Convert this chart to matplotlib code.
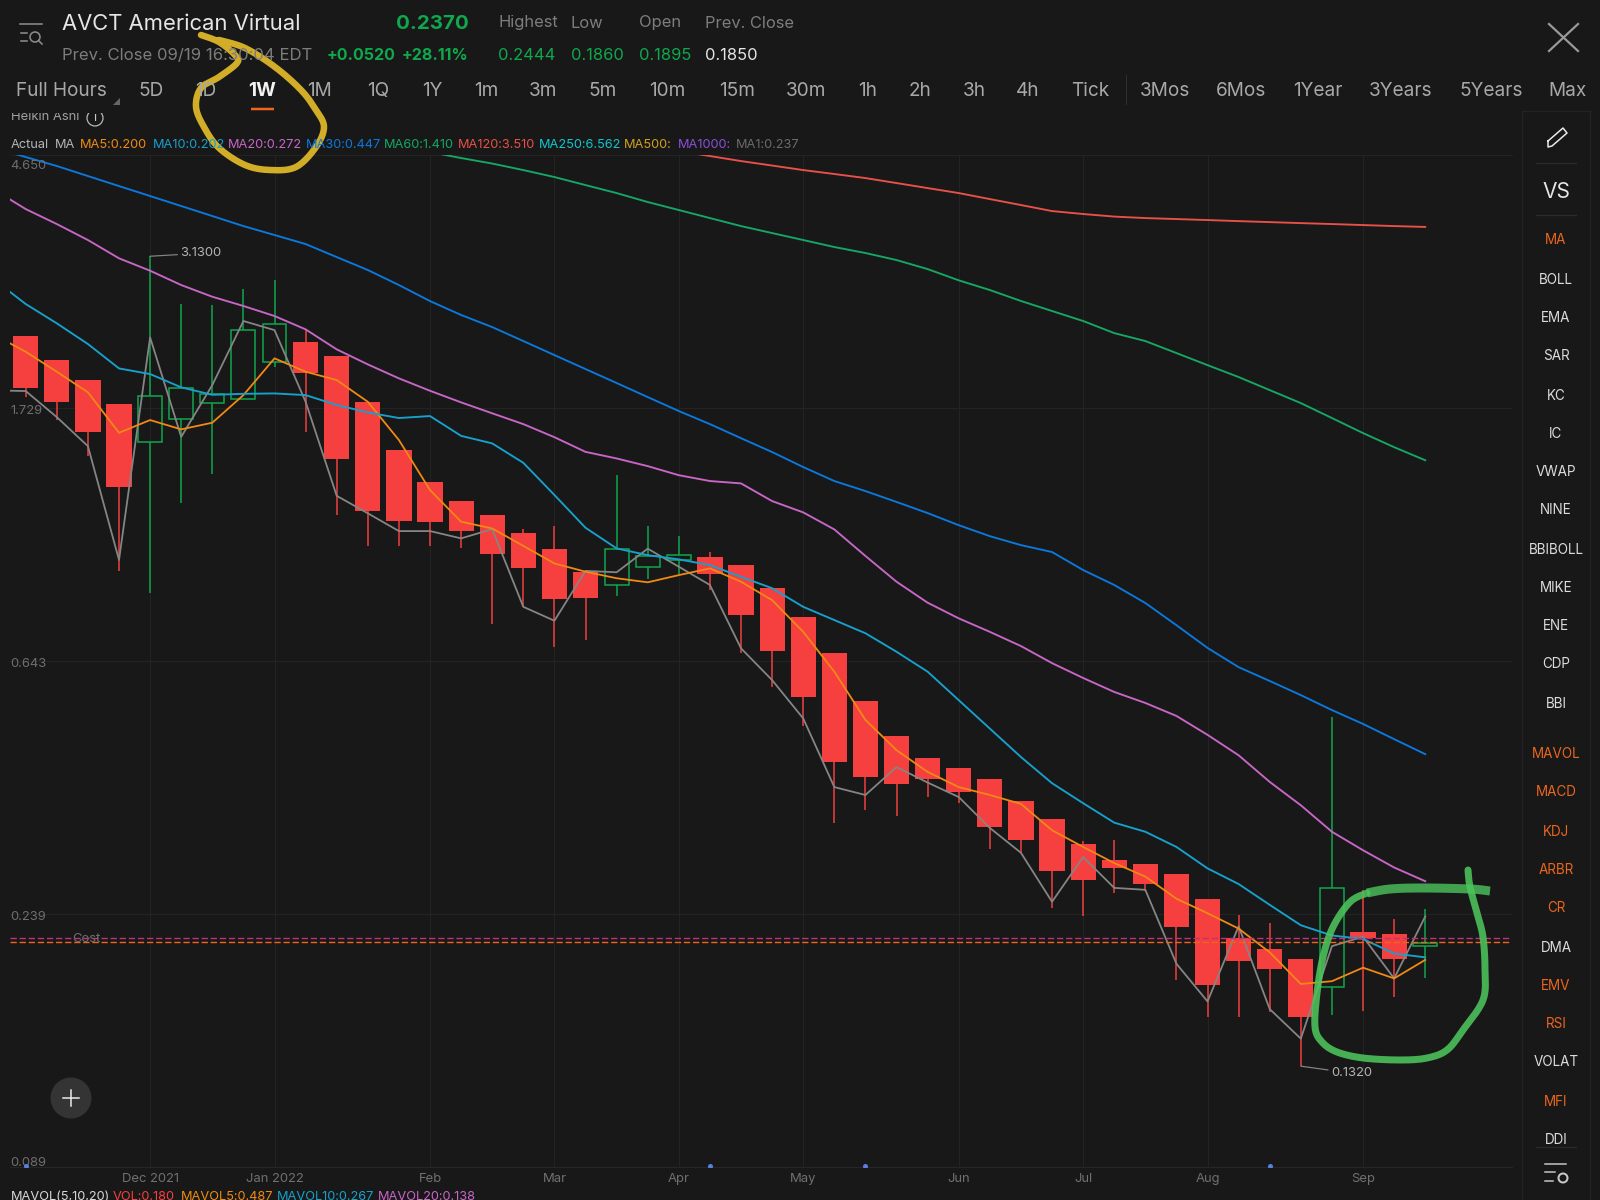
import numpy as np
import matplotlib
matplotlib.use('Agg')
import matplotlib.pyplot as plt
from matplotlib.patches import Circle, Rectangle
from matplotlib.transforms import blended_transform_factory

plt.rcParams['font.family'] = ['Inter', 'DejaVu Sans']

# weekly heikin ashi candles, index 0 is the left most week
ha_open = [2.288,2.083,1.929,1.756,1.512,1.658,1.765,1.793,2.067,2.241,2.119,1.772,1.467,1.294,1.204,1.138,
           1.061,0.995,0.911,0.867,0.929,0.955,0.965,0.937,0.856,0.764,0.664,0.550,0.480,0.440,0.423,0.405,
           0.372,0.347,0.315,0.295,0.291,0.280,0.254,0.218,0.209,0.201,0.180,0.223,0.221,0.211]
ha_close = [1.872,1.768,1.576,1.271,1.812,1.872,1.826,2.343,2.404,1.985,1.416,1.155,1.113,1.108,1.069,0.977,
            0.926,0.821,0.824,0.995,0.970,0.975,0.904,0.769,0.669,0.559,0.434,0.408,0.397,0.405,0.386,0.336,
            0.320,0.283,0.273,0.286,0.269,0.227,0.181,0.199,0.193,0.160,0.265,0.218,0.201,0.214]
ha_high = [2.288,2.083,1.929,1.756,3.130,2.597,2.587,2.751,2.849,2.345,2.119,1.772,1.467,1.294,1.204,1.138,
           1.079,1.089,0.911,1.330,1.089,1.048,0.984,0.937,0.856,0.764,0.664,0.550,0.480,0.440,0.423,0.405,
           0.372,0.347,0.318,0.319,0.291,0.280,0.254,0.238,0.231,0.201,0.517,0.263,0.235,0.2444]
ha_low = [1.807,1.650,1.435,0.914,0.840,1.194,1.336,1.790,2.027,1.576,1.138,1.008,1.008,1.008,0.999,0.743,
          0.795,0.679,0.698,0.829,0.886,0.904,0.849,0.663,0.582,0.499,0.341,0.359,0.351,0.378,0.369,0.308,
          0.304,0.245,0.237,0.260,0.262,0.185,0.160,0.160,0.163,0.132,0.161,0.164,0.173,0.186]

# moving averages, first value is the week before the first candle
ma_x = list(range(-1, 46))
ma1 = [1.853,1.848,1.669,1.490,0.955,2.279,1.545,1.892,2.430,2.345,1.772,1.227,1.146,1.069,1.069,1.039,1.077,
       0.795,0.753,0.915,0.910,0.998,0.930,0.866,0.676,0.597,0.514,0.393,0.381,0.425,0.400,0.378,0.335,
       0.304,0.251,0.299,0.265,0.263,0.197,0.170,0.228,0.165,0.147,0.211,0.219,0.186,0.237]
ma5 = [2.300,2.155,1.993,1.839,1.570,1.650,1.591,1.633,1.819,2.100,1.993,1.929,1.772,1.526,1.255,1.109,1.080,
       1.009,0.942,0.912,0.889,0.875,0.900,0.924,0.877,0.816,0.721,0.617,0.511,0.454,0.417,0.393,0.381,
       0.368,0.332,0.311,0.292,0.277,0.254,0.240,0.226,0.206,0.182,0.184,0.194,0.186,0.200]
ma10 = [2.852,2.597,2.408,2.221,2.019,1.975,1.875,1.821,1.828,1.831,1.819,1.750,1.700,1.663,1.676,1.551,1.506,
        1.396,1.231,1.083,0.999,0.973,0.957,0.936,0.894,0.855,0.795,0.755,0.717,0.667,0.617,0.552,0.494,
        0.442,0.399,0.369,0.342,0.330,0.311,0.286,0.269,0.248,0.229,0.220,0.217,0.205,0.202]
ma20 = [4.055,3.764,3.550,3.335,3.105,2.958,2.797,2.672,2.577,2.478,2.352,2.175,2.051,1.942,1.850,1.768,1.694,
        1.624,1.543,1.457,1.420,1.378,1.330,1.300,1.288,1.202,1.150,1.076,0.970,0.877,0.808,0.760,0.721,
        0.682,0.638,0.602,0.570,0.546,0.519,0.482,0.445,0.401,0.366,0.330,0.307,0.287,0.272]
ma30 = [4.778,4.613,4.454,4.283,4.118,3.961,3.809,3.663,3.522,3.401,3.283,3.120,2.966,2.797,2.627,2.488,2.373,
        2.247,2.127,2.014,1.907,1.805,1.709,1.624,1.537,1.456,1.373,1.300,1.250,1.198,1.147,1.094,1.048,
        1.012,0.985,0.918,0.866,0.807,0.740,0.677,0.628,0.595,0.563,0.531,0.503,0.474,0.447]
ma60_x = list(range(13, 46))
ma60 = [4.704,4.595,4.497,4.384,4.266,4.134,4.007,3.869,3.750,3.634,3.522,3.427,3.335,3.245,3.170,3.084,2.977,
        2.849,2.743,2.628,2.527,2.430,2.318,2.247,2.144,2.045,1.952,1.855,1.763,1.663,1.568,1.484,1.410]
ma120_x = list(range(21, 46))
ma120 = [4.722,4.631,4.541,4.462,4.384,4.317,4.249,4.167,4.086,4.007,3.914,3.824,3.735,3.692,3.655,3.634,3.620,
         3.606,3.591,3.577,3.563,3.550,3.536,3.522,3.510]

cost_a = 0.2180
cost_b = 0.2141
price_ticks = [4.650, 1.729, 0.643, 0.239, 0.089]
month_idx = [4, 8, 13, 17, 21, 25, 30, 34, 38, 43]
month_labels = ['Dec 2021', 'Jan 2022', 'Feb', 'Mar', 'Apr', 'May', 'Jun', 'Jul', 'Aug', 'Sep']
event_idx = [0, 22, 27, 40]

quote_labels = ['Highest', 'Low', 'Open', 'Prev. Close']
quote_values = ['0.2444', '0.1860', '0.1895', '0.1850']
periods = ['5D', '1D', '1W', '1M', '1Q', '1Y', '1m', '3m', '5m', '10m', '15m', '30m', '1h', '2h', '3h', '4h', 'Tick',
           '3Mos', '6Mos', '1Year', '3Years', '5Years', 'Max']
ma_legend = ['Actual', 'MA', 'MA5:0.200', 'MA10:0.202', 'MA20:0.272', 'MA30:0.447', 'MA60:1.410', 'MA120:3.510',
             'MA250:6.562', 'MA500:', 'MA1000:', 'MA1:0.237']
vol_legend = ['MAVOL(5,10,20)', 'VOL:0.180', 'MAVOL5:0.487', 'MAVOL10:0.267', 'MAVOL20:0.138']
side_items = ['MA', 'BOLL', 'EMA', 'SAR', 'KC', 'IC', 'VWAP', 'NINE', 'BBIBOLL', 'MIKE', 'ENE', 'CDP', 'BBI',
              'MAVOL', 'MACD', 'KDJ', 'ARBR', 'CR', 'DMA', 'EMV', 'RSI', 'VOLAT', 'MFI', 'DDI']
side_white = ['BOLL', 'EMA', 'SAR', 'KC', 'IC', 'VWAP', 'NINE', 'BBIBOLL', 'MIKE', 'ENE', 'CDP', 'BBI',
              'DMA', 'VOLAT', 'DDI']

BG = '#181818'
GRID = '#232323'
RED = '#f63f3f'
GREEN = '#10a84c'
C_MA5 = '#f08a14'
C_MA10 = '#17a0cc'
C_MA20 = '#c766c6'
C_MA30 = '#0b78dc'
C_MA60 = '#16a765'
C_MA120 = '#e8504a'
C_MA1 = '#858585'
ORANGE_TXT = '#e8661e'


def px(n):
    # pixel width to points at dpi 100
    return n * 0.72


def smooth(points, n=14):
    # catmull-rom through the given points
    p = np.array(points, dtype=float)
    p = np.vstack([p[0], p, p[-1]])
    out = []
    for i in range(1, len(p) - 2):
        for t in np.linspace(0, 1, n, endpoint=False):
            out.append(0.5 * (2 * p[i] + (p[i + 1] - p[i - 1]) * t
                              + (2 * p[i - 1] - 5 * p[i] + 4 * p[i + 1] - p[i + 2]) * t ** 2
                              + (3 * p[i] - p[i - 1] - 3 * p[i + 1] + p[i + 2]) * t ** 3))
    out.append(p[-2])
    return np.array(out)


fig = plt.figure(figsize=(16, 12), dpi=100, facecolor=BG)

# price chart
ax = fig.add_axes([10 / 1600, 1 - 1167 / 1200, 1502 / 1600, 1012 / 1200], facecolor=BG)
ax.set_yscale('log')
ax.set_xlim(-0.505, 47.79)
ax.set_ylim(0.089, 4.65)
for s in ['top', 'left', 'right']:
    ax.spines[s].set_visible(False)
ax.spines['bottom'].set_color('#262626')
ax.yaxis.set_major_locator(plt.NullLocator())
ax.yaxis.set_minor_locator(plt.NullLocator())
ax.set_xticks(month_idx)
ax.set_xticklabels(month_labels, color='#707070', fontsize=px(13))
ax.tick_params(axis='x', length=0, pad=px(6))
for m in month_idx:
    ax.axvline(m, color=GRID, lw=px(1), zorder=0)
for p in price_ticks[:-1]:
    ax.axhline(p, color=GRID, lw=px(1), zorder=0)
ax.plot([-0.505, 47.79], [4.65, 4.65], color=GRID, lw=px(1), zorder=0, clip_on=False)

tr = blended_transform_factory(ax.transAxes, ax.transData)
for p in price_ticks:
    off = -3
    if p == price_ticks[0]:
        off = -11
    if p == price_ticks[-1]:
        off = 4
    ax.annotate('%.3f' % p, (0, p), xycoords=tr, xytext=(0, px(off)), textcoords='offset points',
                color='#6e6e6e', fontsize=px(13), va='center', ha='left', zorder=6)

ax.axhline(cost_a, color='#c2307c', lw=px(1.4), dashes=(4.5, 2), zorder=5)
ax.axhline(cost_b, color='#f0641a', lw=px(1.4), dashes=(4.5, 2), zorder=5)
ax.annotate('Cost', (0, cost_a), xycoords=tr, xytext=(px(62), px(-1)), textcoords='offset points',
            color='#6e6e6e', fontsize=px(13), va='center', ha='left', zorder=6)

for i in range(len(ha_open)):
    top = max(ha_open[i], ha_close[i])
    bot = min(ha_open[i], ha_close[i])
    if ha_close[i] >= ha_open[i]:
        ax.bar(i, top - bot, bottom=bot, width=0.77, facecolor='none', edgecolor=GREEN, lw=px(1.5), zorder=3)
        ax.vlines(i, top, ha_high[i], color=GREEN, lw=px(1.5), zorder=3)
        ax.vlines(i, ha_low[i], bot, color=GREEN, lw=px(1.5), zorder=3)
    else:
        ax.bar(i, top - bot, bottom=bot, width=0.81, color=RED, lw=0, zorder=3)
        ax.vlines(i, top, ha_high[i], color=RED, lw=px(1.5), zorder=3)
        ax.vlines(i, ha_low[i], bot, color=RED, lw=px(1.5), zorder=3)

ax.plot(ma_x, ma1, color=C_MA1, lw=px(1.8), zorder=4)
ax.plot(ma_x, ma5, color=C_MA5, lw=px(1.8), zorder=4)
ax.plot(ma_x, ma10, color=C_MA10, lw=px(1.9), zorder=4)
ax.plot(ma_x, ma20, color=C_MA20, lw=px(1.9), zorder=4)
ax.plot(ma_x, ma30, color=C_MA30, lw=px(1.9), zorder=4)
ax.plot(ma60_x, ma60, color=C_MA60, lw=px(1.9), zorder=4)
ax.plot(ma120_x, ma120, color=C_MA120, lw=px(1.9), zorder=4)

# high and low callouts
ax.annotate('3.1300', (4, max(ha_high)), xytext=(px(30), px(3)), textcoords='offset points', color='#b4b4b4',
            fontsize=px(13), va='center', ha='left', zorder=6,
            arrowprops=dict(arrowstyle='-', color=C_MA1, lw=px(1.2), shrinkA=0, shrinkB=0))
ax.annotate('0.1320', (41, min(ha_low)), xytext=(px(30), px(-7)), textcoords='offset points', color='#b4b4b4',
            fontsize=px(13), va='center', ha='left', zorder=6,
            arrowprops=dict(arrowstyle='-', color=C_MA1, lw=px(1.2), shrinkA=0, shrinkB=0))

ax.scatter(event_idx, [0.0895] * len(event_idx), s=px(5) ** 2, color='#5a7fe2', zorder=6, lw=0)

# everything around the chart is laid out in screen pixels
ui = fig.add_axes([0, 0, 1, 1], facecolor='none', zorder=10)
ui.set_xlim(0, 1600)
ui.set_ylim(1200, 0)
ui.axis('off')


def label(x, y, s, color='#9a9a9a', size=16, ha='left', weight='normal'):
    return ui.text(x, y, s, color=color, fontsize=px(size), ha=ha, va='center', fontweight=weight)


# header
label(62, 24, 'AVCT American Virtual', '#e6e6e6', 22)
label(396, 24, '0.2370', GREEN, 20.5, weight='bold')
for x, t in zip([498, 570, 639, 705], quote_labels):
    label(x, 23, t, '#7d7d7d', 16.5)
for x, t, c in zip([498, 571, 639, 705], quote_values, [GREEN, GREEN, GREEN, '#e6e6e6']):
    label(x, 55, t, c, 16.5)
label(62, 56, 'Prev. Close 09/19 16:30:04 EDT', '#7d7d7d', 16.7)
label(327, 55, '+0.0520', GREEN, 16, weight='bold')
label(402, 55, '+28.11%', GREEN, 16, weight='bold')

ui.plot([20, 42], [24, 24], color='#8a8a8a', lw=px(1.6))
ui.plot([21, 27], [33, 33], color='#8a8a8a', lw=px(1.6))
ui.plot([21, 27], [41, 41], color='#8a8a8a', lw=px(1.6))
ui.add_patch(Circle((35, 37), 5, fill=False, ec='#8a8a8a', lw=px(1.6)))
ui.plot([38.5, 42], [40.5, 44], color='#8a8a8a', lw=px(1.6))
ui.plot([1549, 1578], [24, 51], color='#9a9a9a', lw=px(2.2))
ui.plot([1549, 1578], [51, 24], color='#9a9a9a', lw=px(2.2))

# period selector
label(61, 91, 'Full Hours', '#a8a8a8', 19, ha='center')
ui.fill([113, 120, 120], [105, 105, 98], color='#666666', lw=0)
period_x = [151, 206, 262, 320, 378, 432, 486, 543, 603, 667, 737, 806, 868, 920, 974, 1028, 1090,
            1165, 1241, 1318, 1401, 1491, 1567]
for x, t in zip(period_x, periods):
    if t == '1W':
        label(x, 91, t, '#f2f2f2', 19, ha='center', weight='bold')
    else:
        label(x, 91, t, '#a8a8a8', 19, ha='center')
ui.plot([251, 274], [109, 109], color='#f0641e', lw=px(2.5), solid_capstyle='butt')
ui.plot([1126, 1126], [75, 104], color='#303030', lw=px(1))

# indicator legends, cut off at the top by the selector row
clip = Rectangle((0, 113), 400, 20, transform=ui.transData)
t = label(11, 117, 'Heikin Ashi', '#a0a0a0', 13)
t.set_clip_path(clip)
t.set_clip_on(True)
t = label(95, 118, 'i', '#c8c8c8', 13, ha='center')
t.set_clip_path(clip)
t.set_clip_on(True)
ring = Circle((95, 118), 8, fill=False, ec='#bdbdbd', lw=px(1.2))
ui.add_patch(ring)
ring.set_clip_path(clip)

legend_x = [11, 55, 80, 153, 228, 306, 384, 458, 539, 624, 678, 736]
legend_c = ['#b5b5b5', '#b5b5b5', C_MA5, C_MA10, C_MA20, C_MA30, C_MA60, C_MA120, '#0fc6cc', '#d0a020', '#8a4fd8',
            '#6a6a6a']
for x, t, c in zip(legend_x, ma_legend, legend_c):
    label(x, 145, t, c, 12.8)

vol_x = [11, 113, 181, 277, 378]
vol_c = ['#d8d8d8', RED, C_MA5, C_MA10, C_MA20]
for x, t, c in zip(vol_x, vol_legend, vol_c):
    label(x, 1197, t, c, 12.8)

# zoom button
ui.add_patch(Circle((71, 1098), 20.5, color='#343434', lw=0))
ui.plot([63, 79], [1098, 1098], color='#eeeeee', lw=px(1.5))
ui.plot([71, 71], [1090, 1106], color='#eeeeee', lw=px(1.5))

# indicator side bar
ui.plot([1522, 1522], [111, 1200], color='#232323', lw=px(1.2))
ui.plot([1522, 1590], [111, 111], color='#232323', lw=px(1.2))
ui.plot([1590, 1590], [111, 1200], color='#232323', lw=px(1.2))
for y in [163, 215, 1147]:
    ui.plot([1536, 1576], [y, y], color='#2c2c2c', lw=px(1.2))
pen_x = [1548, 1563, 1567, 1552, 1548, 1548]
pen_y = [141, 128, 133, 146, 147, 141]
ui.plot(pen_x, pen_y, color='#ececec', lw=px(1.5))
label(1556, 191.5, 'VS', '#e6e6e6', 21, ha='center')
side_y = [240.5, 279.5, 317.5, 356.5, 395.5, 433.5, 471.5, 510.5, 549.5, 587.5, 625.5, 664.5, 703.5, 754.5, 792.5,
          831.5, 869.5, 908.5, 947.5, 985.5, 1023.5, 1062.5, 1101.5, 1139.5]
for y, t in zip(side_y, side_items):
    c = '#dcdcdc' if t in side_white else ORANGE_TXT
    label(1556, y, t, c, 13.5, ha='center')
ui.plot([1545, 1566], [1164, 1164], color='#c8c8c8', lw=px(1.5))
ui.plot([1545, 1555], [1172, 1172], color='#c8c8c8', lw=px(1.5))
ui.plot([1545, 1553], [1181, 1181], color='#c8c8c8', lw=px(1.5))
ui.add_patch(Circle((1563, 1178), 4.5, fill=False, ec='#c8c8c8', lw=px(2)))

# hand drawn marks on top of the screen
yellow = smooth([(201, 35), (219, 42), (235, 55), (237, 63), (219, 77), (201, 88), (196, 107), (204, 127), (219, 148),
                 (245, 165), (270, 170), (296, 167), (316, 147), (324, 127), (316, 110), (301, 90), (275, 67),
                 (245, 48), (219, 40)])
ui.plot(yellow[:, 0], yellow[:, 1], color='#e6be2a', lw=px(6.5), alpha=0.9, solid_capstyle='round')

green_loop = smooth([(1367, 893), (1350, 902), (1333, 927), (1323, 957), (1317, 993), (1315, 1027), (1322, 1042),
                     (1337, 1052), (1363, 1058), (1400, 1060), (1427, 1058), (1447, 1050), (1463, 1030), (1483, 1000),
                     (1485, 970), (1483, 937), (1477, 913), (1470, 887), (1468, 870)])
ui.plot(green_loop[:, 0], green_loop[:, 1], color='#4dc45c', lw=px(7), alpha=0.88, solid_capstyle='round')
green_top = smooth([(1490, 891), (1470, 889), (1423, 888), (1390, 889), (1367, 893)])
ui.plot(green_top[:, 0], green_top[:, 1], color='#4dc45c', lw=px(9), alpha=0.8, solid_capstyle='butt')

fig.savefig('out.png', dpi=100, facecolor=BG)
